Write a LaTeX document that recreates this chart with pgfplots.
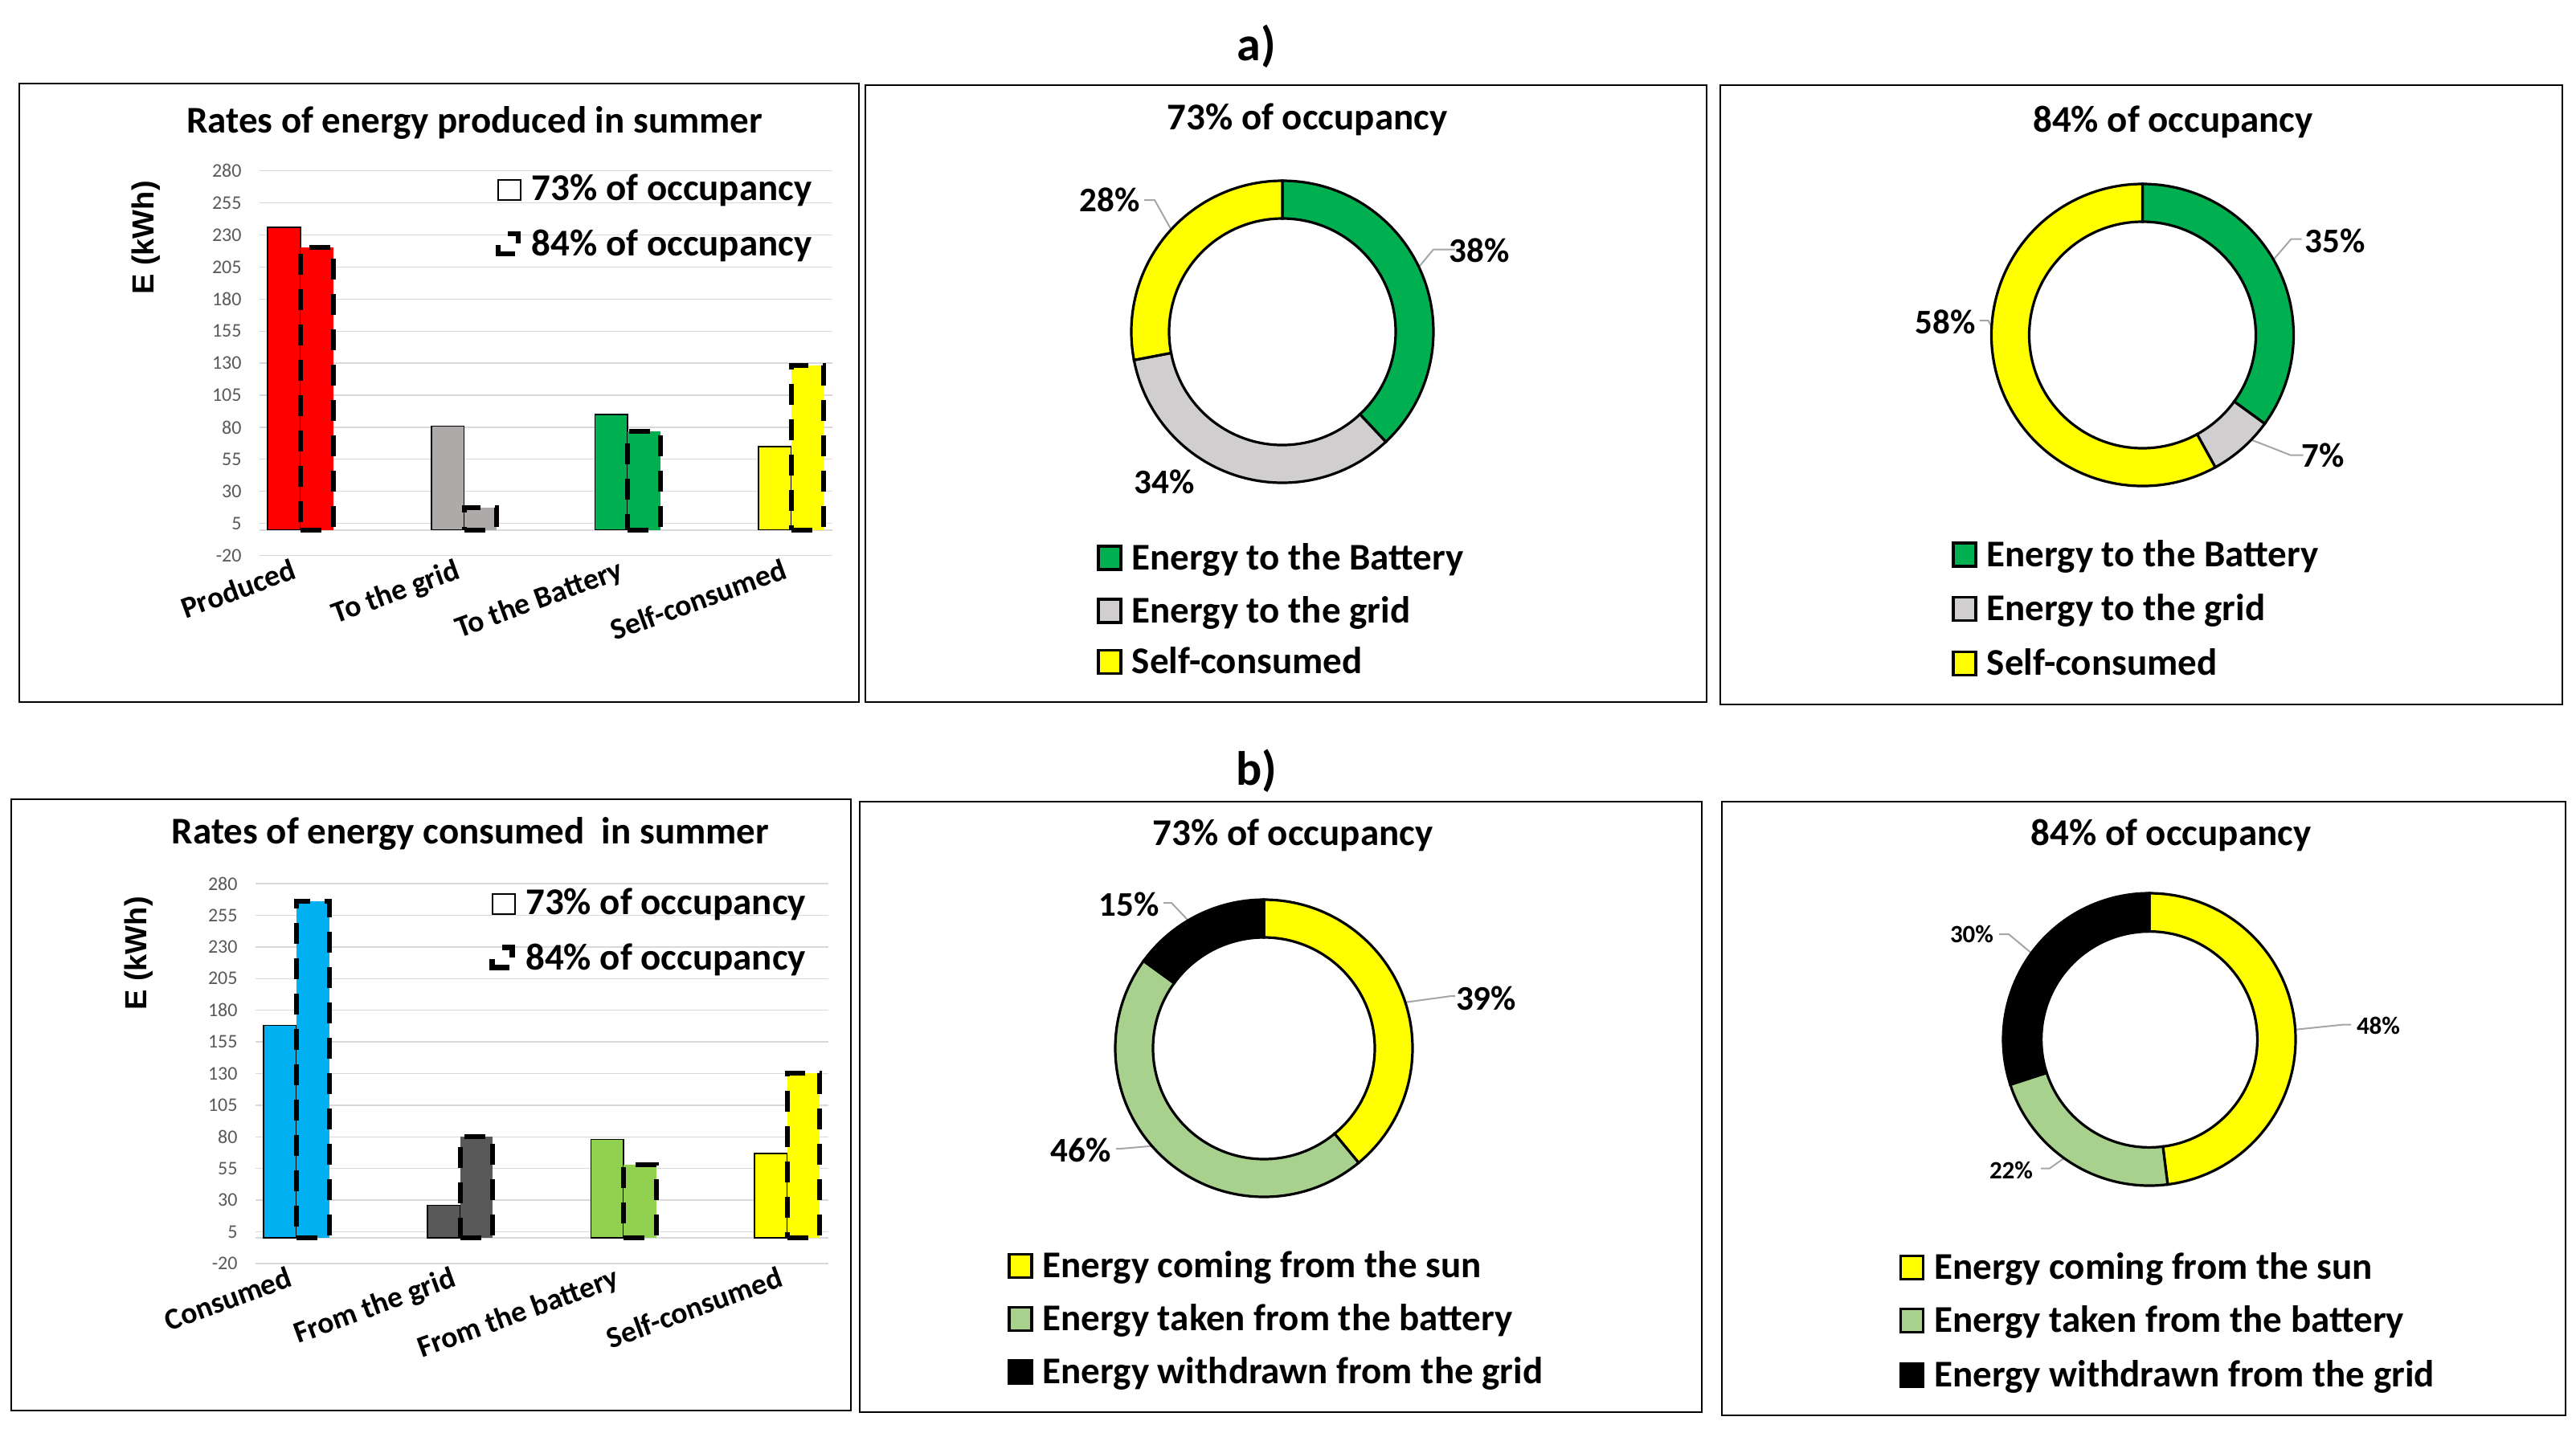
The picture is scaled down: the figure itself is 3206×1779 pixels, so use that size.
\documentclass[border=0pt]{standalone}
\usepackage{pgfplots}
\pgfplotsset{compat=1.18}
\usepackage{pgfplotstable}
\usepackage{fontspec}
\setmainfont{Carlito}
\newfontfamily\arialfont{Liberation Sans}

\definecolor{cRed}{HTML}{FF0000}
\definecolor{cGreyB}{HTML}{AEAAAA}
\definecolor{cGreen}{HTML}{00B050}
\definecolor{cYellow}{HTML}{FFFF00}
\definecolor{cBlue}{HTML}{00B0F0}
\definecolor{cDark}{HTML}{595959}
\definecolor{cLGreenB}{HTML}{92D050}
\definecolor{cGreyD}{HTML}{D0CECE}
\definecolor{cLGreenD}{HTML}{A9D18E}
\definecolor{gridc}{HTML}{D9D9D9}
\definecolor{tickc}{HTML}{595959}
\definecolor{leaderc}{HTML}{A6A6A6}
% segment colours by index
\colorlet{dc1}{cGreen}
\colorlet{dc2}{cGreyD}
\colorlet{dc3}{cYellow}
\colorlet{dc4}{cLGreenD}
\colorlet{dc5}{black}

\newcommand\fT{\bfseries\fontsize{11.75}{14}\selectfont}
\newcommand\fP{\bfseries\fontsize{10.75}{13}\selectfont}
\newcommand\fS{\bfseries\fontsize{7.75}{9}\selectfont}

% donut shares (start = cumulative share before the segment)
\pgfplotstableread{
x y start pct ci
0 0 0 38 1
0 0 38 34 2
0 0 72 28 3
}\donutA
\pgfplotstableread{
x y start pct ci
0 0 0 35 1
0 0 35 7 2
0 0 42 58 3
}\donutB
\pgfplotstableread{
x y start pct ci
0 0 0 39 3
0 0 39 46 4
0 0 85 15 5
}\donutC
\pgfplotstableread{
x y start pct ci
0 0 0 48 3
0 0 48 22 4
0 0 70 30 5
}\donutD

\pgfplotsset{
  barchart/.style={
    anchor=north west, scale only axis, width=178.25pt,
    xmin=-0.249, xmax=3.254, ymin=-20, ymax=280,
    axis line style={draw=none}, major tick length=0pt,
    ytick={-20,5,...,280}, xtick={0,1,2,3},
    ymajorgrids, major grid style={draw=gridc, line width=0.35pt},
    extra y ticks={0}, extra y tick labels={},
    extra y tick style={grid=major, major grid style={draw=gridc, line width=0.5pt}},
    /pgf/number format/assume math mode=true,
    yticklabel style={font=\fontsize{6}{7}\selectfont, text=tickc, inner sep=0pt, xshift=-5.5pt},
    xticklabel style={font=\bfseries\fontsize{9.4}{11}\selectfont, rotate=20, anchor=north east,
      inner sep=1pt, xshift=-2pt, yshift=1.5pt},
    every axis title shift=0pt,
    title style={anchor=base, inner sep=0pt, font=\fT},
    ylabel style={anchor=center, font=\arialfont\bfseries\fontsize{9.5}{11}\selectfont},
    clip=false,
  },
  b73/.style={ybar, bar width=0.2, bar shift=-0.1, fill=#1, draw=black, line width=0.4pt, forget plot},
  b84/.style={ybar, bar width=0.2, bar shift=0.1, fill=#1, draw=black, line width=1.5pt,
    dash pattern=on 6.5pt off 4.5pt, forget plot},
  donutax/.style={hide axis, scale only axis, width=100pt, height=100pt,
    xmin=-200, xmax=200, ymin=-200, ymax=200, anchor=center, clip=false},
  donut/.style 2 args={
    only marks, scatter, mark=*, mark size=0pt, forget plot,
    point meta=\thisrow{pct},
    visualization depends on={\thisrow{start} \as \dstart},
    visualization depends on={\thisrow{pct} \as \dpct},
    visualization depends on={\thisrow{ci} \as \dci},
    scatter/@pre marker code/.code={%
      \pgfmathsetmacro\aA{90-3.6*\dstart}%
      \pgfmathsetmacro\aB{90-3.6*(\dstart+\dpct)}%
      \pgfmathtruncatemacro\cidx{\dci}%
      \filldraw[fill=dc\cidx, draw=black, line width=0.8pt]
        (\aA:#1) arc[start angle=\aA, end angle=\aB, radius=#1]
        -- (\aB:#2) arc[start angle=\aB, end angle=\aA, radius=#2] -- cycle;
    },
    scatter/@post marker code/.code={},
  },
}
\tikzset{leader/.style={draw=leaderc, line width=0.5pt},
  px/.style={x=0.25pt, y=-0.25pt}}

% legend row: x of key, baseline, fill, text
\newcommand\lkey[4]{%
  \draw[line width=0.8pt, fill=#3] (#1,#2) rectangle (#1+28,#2-29);
  \node[anchor=base west, inner sep=0pt, font=\fT] at (#1+41,#2) {#4};}

\begin{document}
\begin{tikzpicture}
\begin{scope}[px]
\path[use as bounding box] (0,0) rectangle (3206,1779);
% panel frames
\draw[line width=0.6pt] (24,104) rectangle (1069,874);
\draw[line width=0.6pt] (1077,106) rectangle (2124,874);
\draw[line width=0.6pt] (2141,106) rectangle (3189,877);
\draw[line width=0.6pt] (14,995) rectangle (1059,1756);
\draw[line width=0.6pt] (1070,998) rectangle (2118,1758);
\draw[line width=0.6pt] (2143,998) rectangle (3193,1762);
\node[anchor=base, inner sep=0pt, font=\bfseries\fontsize{15}{18}\selectfont] at (1564,75) {a)};
\node[anchor=base, inner sep=0pt, font=\bfseries\fontsize{15}{18}\selectfont] at (1564,977) {b)};
\end{scope}

% ---------- a) produced ----------
\begin{axis}[barchart, at={(80.825pt,-53.175pt)}, height=119.7pt,
  title={Rates of energy produced in summer},
  title style={at={(axis description cs:0.375,1.0996)}},
  ylabel={E (kWh)},
  ylabel style={at={(axis description cs:-0.198,0.826)}},
  xticklabels={Produced,To the grid,To the Battery,Self-consumed}]
\addplot[b73=cRed] coordinates {(0,236)};
\addplot[b84=cRed] coordinates {(0,220)};
\addplot[b73=cGreyB] coordinates {(1,81)};
\addplot[b84=cGreyB] coordinates {(1,17)};
\addplot[b73=cGreen] coordinates {(2,90)};
\addplot[b84=cGreen] coordinates {(2,77)};
\addplot[b73=cYellow] coordinates {(3,65)};
\addplot[b84=cYellow] coordinates {(3,128)};
\end{axis}
\begin{scope}[px]
\draw[line width=0.5pt, fill=white] (620,249) rectangle (648,224);
\node[anchor=base west, inner sep=0pt, font=\fT] at (661,249.5) {73\% of occupancy};
\draw[line width=1.7pt, dash pattern=on 6.25pt off 4.15pt on 8pt off 6.6pt, dash phase=21.9pt]
  (620,291) -- (645,291) -- (645,316) -- (620,316) -- cycle;
\node[anchor=base west, inner sep=0pt, font=\fT] at (661,318.5) {84\% of occupancy};
\end{scope}

% ---------- a) 73% donut ----------
\begin{axis}[donutax, at={(399pt,-103.25pt)}]
\addplot[donut={47pt}{35.25pt}] table[x=x,y=y] {\donutA};
\draw[leader] (axis cs:215,102.5) -- (axis cs:188,102.5) -- (axis cs:153.5,61);
\draw[leader] (axis cs:-172,164) -- (axis cs:-159,164) -- (axis cs:-126,105);
\node[font=\fP] at (axis cs:245,101) {38\%};
\node[font=\fP] at (axis cs:-215,164) {28\%};
\node[font=\fP] at (axis cs:-147,-187) {34\%};
\end{axis}
\begin{scope}[px]
\node[anchor=base, inner sep=0pt, font=\fT] at (1627,161) {73\% of occupancy};
\lkey{1367}{709}{cGreen}{Energy to the Battery}
\lkey{1367}{775}{cGreyD}{Energy to the grid}
\lkey{1367}{838.5}{cYellow}{Self-consumed}
\end{scope}

% ---------- a) 84% donut ----------
\begin{axis}[donutax, at={(666.625pt,-104.25pt)}]
\addplot[donut={47pt}{35.25pt}] table[x=x,y=y] {\donutB};
\draw[leader] (axis cs:198,119.5) -- (axis cs:185,119.5) -- (axis cs:147.5,75.5);
\draw[leader] (axis cs:200,-149.5) -- (axis cs:184,-149.5) -- (axis cs:111,-121);
\draw[leader] (axis cs:-203,18) -- (axis cs:-192,18) -- (axis cs:-161.5,-40.5);
\node[font=\fP] at (axis cs:239.5,117) {35\%};
\node[font=\fP] at (axis cs:225,-150) {7\%};
\node[font=\fP] at (axis cs:-245.5,16.3) {58\%};
\end{axis}
\begin{scope}[px]
\node[anchor=base, inner sep=0pt, font=\fT] at (2704.5,164) {84\% of occupancy};
\lkey{2431}{705}{cGreen}{Energy to the Battery}
\lkey{2431}{772.8}{cGreyD}{Energy to the grid}
\lkey{2431}{840.5}{cYellow}{Self-consumed}
\end{scope}

% ---------- b) consumed ----------
\begin{axis}[barchart, at={(79.575pt,-275pt)}, height=118.2pt,
  title={Rates of energy consumed~ in summer},
  title style={at={(axis description cs:0.3748,1.1037)}},
  ylabel={E (kWh)},
  ylabel style={at={(axis description cs:-0.2046,0.816)}},
  xticklabels={Consumed,From the grid,From the battery,Self-consumed}]
\addplot[b73=cBlue] coordinates {(0,168)};
\addplot[b84=cBlue] coordinates {(0,266)};
\addplot[b73=cDark] coordinates {(1,26)};
\addplot[b84=cDark] coordinates {(1,80)};
\addplot[b73=cLGreenB] coordinates {(2,78)};
\addplot[b84=cLGreenB] coordinates {(2,58)};
\addplot[b73=cYellow] coordinates {(3,67)};
\addplot[b84=cYellow] coordinates {(3,130)};
\end{axis}
\begin{scope}[px]
\draw[line width=0.5pt, fill=white] (612.5,1137.5) rectangle (640.5,1112.5);
\node[anchor=base west, inner sep=0pt, font=\fT] at (653.5,1138) {73\% of occupancy};
\draw[line width=1.7pt, dash pattern=on 6.25pt off 4.15pt on 8pt off 6.6pt, dash phase=21.9pt]
  (612.5,1179.5) -- (637.5,1179.5) -- (637.5,1204.5) -- (612.5,1204.5) -- cycle;
\node[anchor=base west, inner sep=0pt, font=\fT] at (653.5,1207.5) {84\% of occupancy};
\end{scope}

% ---------- b) 73% donut ----------
\begin{axis}[donutax, at={(393.25pt,-326.25pt)}]
\addplot[donut={46.25pt}{34.5pt}] table[x=x,y=y] {\donutC};
\draw[leader] (axis cs:238,65) -- (axis cs:233,65) -- (axis cs:152.5,54);
\draw[leader] (axis cs:-184,-125) -- (axis cs:-178,-125) -- (axis cs:-108,-119);
\draw[leader] (axis cs:-125,181) -- (axis cs:-115,181) -- (axis cs:-77,141);
\node[font=\fP] at (axis cs:276.6,62) {39\%};
\node[font=\fP] at (axis cs:-228,-127) {46\%};
\node[font=\fP] at (axis cs:-168,179) {15\%};
\end{axis}
\begin{scope}[px]
\node[anchor=base, inner sep=0pt, font=\fT] at (1609,1052) {73\% of occupancy};
\lkey{1256}{1590.5}{cYellow}{Energy coming from the sun}
\lkey{1256}{1656.5}{cLGreenD}{Energy taken from the battery}
\lkey{1256}{1722.5}{black}{Energy withdrawn from the grid}
\end{scope}

% ---------- b) 84% donut ----------
\begin{axis}[donutax, at={(668.75pt,-323.5pt)}]
\addplot[donut={45.5pt}{33.6pt}] table[x=x,y=y] {\donutD};
\draw[leader] (axis cs:251,18.5) -- (axis cs:242,18.5) -- (axis cs:160.5,10);
\draw[leader] (axis cs:-187,131) -- (axis cs:-175,131) -- (axis cs:-130,93.5);
\draw[leader] (axis cs:-135,-160.5) -- (axis cs:-124,-160.5) -- (axis cs:-84.5,-132.5);
\node[font=\fS] at (axis cs:285,17) {48\%};
\node[font=\fS] at (axis cs:-221,131) {30\%};
\node[font=\fS] at (axis cs:-172,-163) {22\%};
\end{axis}
\begin{scope}[px]
\node[anchor=base, inner sep=0pt, font=\fT] at (2702,1052) {84\% of occupancy};
\lkey{2365.5}{1592.5}{cYellow}{Energy coming from the sun}
\lkey{2365.5}{1658.5}{cLGreenD}{Energy taken from the battery}
\lkey{2365.5}{1726.5}{black}{Energy withdrawn from the grid}
\end{scope}
\end{tikzpicture}
\end{document}
